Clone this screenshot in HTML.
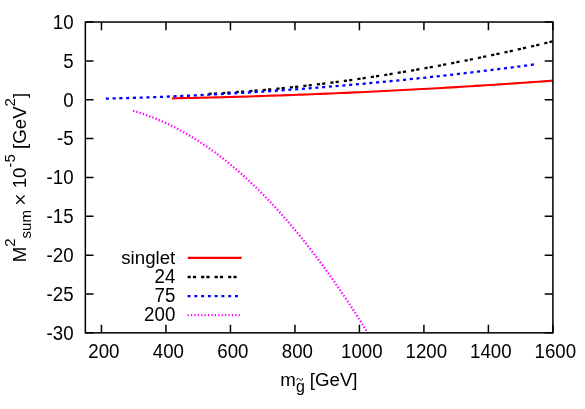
<!DOCTYPE html>
<html><head><meta charset="utf-8"><title>plot</title>
<style>
html,body{margin:0;padding:0;background:#fff;}
body{width:585px;height:409px;overflow:hidden;}
svg{display:block;will-change:transform;}
text{font-family:"Liberation Sans",sans-serif;font-size:18.7px;fill:#000;}
</style></head><body>
<svg width="585" height="409" viewBox="0 0 585 409">
<rect width="585" height="409" fill="#fff"/>
<g fill="none" stroke-width="2.3">
<path d="M172.00,98.35 L176.82,98.25 L181.64,98.15 L186.46,98.05 L191.29,97.95 L196.11,97.84 L200.93,97.73 L205.75,97.61 L210.57,97.50 L215.39,97.37 L220.22,97.25 L225.04,97.12 L229.86,96.99 L234.68,96.86 L239.50,96.72 L244.32,96.58 L249.14,96.43 L253.97,96.28 L258.79,96.13 L263.61,95.98 L268.43,95.82 L273.25,95.66 L278.07,95.50 L282.89,95.33 L287.72,95.16 L292.54,94.98 L297.36,94.81 L302.18,94.63 L307.00,94.44 L311.82,94.25 L316.65,94.06 L321.47,93.87 L326.29,93.67 L331.11,93.47 L335.93,93.27 L340.75,93.06 L345.57,92.85 L350.40,92.64 L355.22,92.42 L360.04,92.20 L364.86,91.97 L369.68,91.75 L374.50,91.52 L379.33,91.28 L384.15,91.05 L388.97,90.81 L393.79,90.56 L398.61,90.31 L403.43,90.06 L408.25,89.81 L413.08,89.55 L417.90,89.29 L422.72,89.03 L427.54,88.76 L432.36,88.49 L437.18,88.22 L442.01,87.94 L446.83,87.66 L451.65,87.38 L456.47,87.09 L461.29,86.80 L466.11,86.51 L470.93,86.21 L475.76,85.91 L480.58,85.61 L485.40,85.30 L490.22,84.99 L495.04,84.68 L499.86,84.37 L504.68,84.05 L509.51,83.72 L514.33,83.40 L519.15,83.07 L523.97,82.73 L528.79,82.40 L533.61,82.06 L538.44,81.72 L543.26,81.37 L548.08,81.02 L552.90,80.67" stroke="#ff0000" stroke-width="2.1"/>
<path d="M208.50,93.85 L212.86,93.61 L217.22,93.37 L221.58,93.11 L225.94,92.83 L230.30,92.55 L234.66,92.25 L239.02,91.94 L243.38,91.62 L247.74,91.29 L252.09,90.94 L256.45,90.59 L260.81,90.22 L265.17,89.84 L269.53,89.44 L273.89,89.04 L278.25,88.62 L282.61,88.20 L286.97,87.76 L291.33,87.31 L295.69,86.84 L300.05,86.37 L304.41,85.89 L308.77,85.39 L313.13,84.88 L317.49,84.36 L321.85,83.83 L326.21,83.29 L330.57,82.74 L334.93,82.18 L339.28,81.61 L343.64,81.02 L348.00,80.43 L352.36,79.82 L356.72,79.21 L361.08,78.58 L365.44,77.94 L369.80,77.29 L374.16,76.64 L378.52,75.97 L382.88,75.29 L387.24,74.60 L391.60,73.90 L395.96,73.19 L400.32,72.47 L404.68,71.74 L409.04,71.00 L413.40,70.26 L417.76,69.50 L422.12,68.73 L426.47,67.95 L430.83,67.16 L435.19,66.36 L439.55,65.56 L443.91,64.74 L448.27,63.91 L452.63,63.08 L456.99,62.23 L461.35,61.38 L465.71,60.51 L470.07,59.64 L474.43,58.76 L478.79,57.87 L483.15,56.97 L487.51,56.06 L491.87,55.14 L496.23,54.22 L500.59,53.28 L504.95,52.34 L509.31,51.39 L513.66,50.42 L518.02,49.45 L522.38,48.48 L526.74,47.49 L531.10,46.50 L535.46,45.49 L539.82,44.48 L544.18,43.46 L548.54,42.43 L552.90,41.40" stroke="#000" stroke-dasharray="3.2 2.1 3.2 5.1"/>
<path d="M105.80,98.63 L111.23,98.49 L116.65,98.34 L122.08,98.19 L127.50,98.03 L132.93,97.86 L138.35,97.68 L143.78,97.50 L149.20,97.31 L154.63,97.11 L160.05,96.90 L165.48,96.69 L170.90,96.47 L176.33,96.24 L181.75,96.00 L187.18,95.76 L192.61,95.50 L198.03,95.24 L203.46,94.98 L208.88,94.70 L214.31,94.42 L219.73,94.13 L225.16,93.83 L230.58,93.53 L236.01,93.22 L241.43,92.90 L246.86,92.57 L252.28,92.24 L257.71,91.89 L263.13,91.54 L268.56,91.19 L273.98,90.82 L279.41,90.45 L284.84,90.07 L290.26,89.68 L295.69,89.29 L301.11,88.88 L306.54,88.47 L311.96,88.05 L317.39,87.63 L322.81,87.20 L328.24,86.76 L333.66,86.31 L339.09,85.85 L344.51,85.39 L349.94,84.92 L355.36,84.44 L360.79,83.95 L366.22,83.46 L371.64,82.96 L377.07,82.45 L382.49,81.94 L387.92,81.41 L393.34,80.88 L398.77,80.34 L404.19,79.80 L409.62,79.24 L415.04,78.68 L420.47,78.11 L425.89,77.54 L431.32,76.95 L436.74,76.36 L442.17,75.76 L447.59,75.16 L453.02,74.54 L458.45,73.92 L463.87,73.29 L469.30,72.65 L474.72,72.01 L480.15,71.36 L485.57,70.70 L491.00,70.03 L496.42,69.36 L501.85,68.68 L507.27,67.99 L512.70,67.29 L518.12,66.58 L523.55,65.87 L528.97,65.15 L534.40,64.43" stroke="#0000ff" stroke-dasharray="3.1 3.67"/>
<path d="M133.00,110.74 L135.97,111.62 L138.95,112.55 L141.92,113.52 L144.89,114.54 L147.87,115.60 L150.84,116.71 L153.81,117.87 L156.79,119.08 L159.76,120.33 L162.73,121.63 L165.71,122.98 L168.68,124.38 L171.65,125.83 L174.63,127.32 L177.60,128.86 L180.57,130.45 L183.55,132.09 L186.52,133.78 L189.49,135.52 L192.47,137.31 L195.44,139.14 L198.42,141.03 L201.39,142.97 L204.36,144.95 L207.34,146.99 L210.31,149.08 L213.28,151.21 L216.26,153.40 L219.23,155.63 L222.20,157.92 L225.18,160.26 L228.15,162.65 L231.12,165.09 L234.10,167.58 L237.07,170.12 L240.04,172.71 L243.02,175.36 L245.99,178.05 L248.96,180.80 L251.94,183.60 L254.91,186.44 L257.88,189.35 L260.86,192.30 L263.83,195.30 L266.80,198.36 L269.78,201.46 L272.75,204.62 L275.72,207.83 L278.70,211.10 L281.67,214.41 L284.64,217.78 L287.62,221.20 L290.59,224.67 L293.56,228.19 L296.54,231.76 L299.51,235.39 L302.48,239.07 L305.46,242.80 L308.43,246.58 L311.41,250.42 L314.38,254.30 L317.35,258.24 L320.33,262.23 L323.30,266.28 L326.27,270.37 L329.25,274.52 L332.22,278.71 L335.19,282.97 L338.17,287.27 L341.14,291.62 L344.11,296.03 L347.09,300.48 L350.06,304.99 L353.03,309.55 L356.01,314.17 L358.98,318.83 L361.95,323.55 L364.93,328.31 L367.90,333.13" stroke="#ff00ff" stroke-dasharray="1.4 2.0"/>
<path d="M187.8,257.9 H241.6" stroke="#ff0000"/>
<path d="M187.6,277.0 H237" stroke="#000" stroke-dasharray="3.2 2.1 3.2 5.0"/>
<path d="M187.6,296.1 H238" stroke="#0000ff" stroke-dasharray="2.9 3.87"/>
<path d="M187.6,315.1 H240.3" stroke="#ff00ff" stroke-dasharray="1.2 2.2"/>
</g>
<g fill="none" stroke="#000" stroke-width="1.5">
<rect x="85.35" y="22.05" width="467.55" height="310.80"/>
<path d="M101.47,332.85 V324.65000000000003 M101.47,22.05 V30.25"/>
<path d="M165.96,332.85 V324.65000000000003 M165.96,22.05 V30.25"/>
<path d="M230.45,332.85 V324.65000000000003 M230.45,22.05 V30.25"/>
<path d="M294.94,332.85 V324.65000000000003 M294.94,22.05 V30.25"/>
<path d="M359.43,332.85 V324.65000000000003 M359.43,22.05 V30.25"/>
<path d="M423.92,332.85 V324.65000000000003 M423.92,22.05 V30.25"/>
<path d="M488.41,332.85 V324.65000000000003 M488.41,22.05 V30.25"/>
<path d="M552.90,332.85 V324.65000000000003 M552.90,22.05 V30.25"/>
<path d="M85.35,332.85 H93.55 M552.9,332.85 H544.6999999999999"/>
<path d="M85.35,294.00 H93.55 M552.9,294.00 H544.6999999999999"/>
<path d="M85.35,255.15 H93.55 M552.9,255.15 H544.6999999999999"/>
<path d="M85.35,216.30 H93.55 M552.9,216.30 H544.6999999999999"/>
<path d="M85.35,177.45 H93.55 M552.9,177.45 H544.6999999999999"/>
<path d="M85.35,138.60 H93.55 M552.9,138.60 H544.6999999999999"/>
<path d="M85.35,99.75 H93.55 M552.9,99.75 H544.6999999999999"/>
<path d="M85.35,60.90 H93.55 M552.9,60.90 H544.6999999999999"/>
<path d="M85.35,22.05 H93.55 M552.9,22.05 H544.6999999999999"/>
</g>
<g>
<text transform="translate(103.87,358.4) scale(1,1.06)" text-anchor="middle">200</text>
<text transform="translate(168.36,358.4) scale(1,1.06)" text-anchor="middle">400</text>
<text transform="translate(232.85,358.4) scale(1,1.06)" text-anchor="middle">600</text>
<text transform="translate(297.34,358.4) scale(1,1.06)" text-anchor="middle">800</text>
<text transform="translate(361.83,358.4) scale(1,1.06)" text-anchor="middle">1000</text>
<text transform="translate(426.32,358.4) scale(1,1.06)" text-anchor="middle">1200</text>
<text transform="translate(490.81,358.4) scale(1,1.06)" text-anchor="middle">1400</text>
<text transform="translate(555.30,358.4) scale(1,1.06)" text-anchor="middle">1600</text>
<text transform="translate(73.6,339.65) scale(1,1.06)" text-anchor="end">-30</text>
<text transform="translate(73.6,300.80) scale(1,1.06)" text-anchor="end">-25</text>
<text transform="translate(73.6,261.95) scale(1,1.06)" text-anchor="end">-20</text>
<text transform="translate(73.6,223.10) scale(1,1.06)" text-anchor="end">-15</text>
<text transform="translate(73.6,184.25) scale(1,1.06)" text-anchor="end">-10</text>
<text transform="translate(73.6,145.40) scale(1,1.06)" text-anchor="end">-5</text>
<text transform="translate(73.6,106.55) scale(1,1.06)" text-anchor="end">0</text>
<text transform="translate(73.6,67.70) scale(1,1.06)" text-anchor="end">5</text>
<text transform="translate(73.6,28.85) scale(1,1.06)" text-anchor="end">10</text>
<text transform="translate(175.3,263.90) scale(1,1.0)" text-anchor="end">singlet</text>
<text transform="translate(175.3,283.00) scale(1,1.06)" text-anchor="end">24</text>
<text transform="translate(175.3,302.10) scale(1,1.06)" text-anchor="end">75</text>
<text transform="translate(175.3,321.10) scale(1,1.06)" text-anchor="end">200</text>
<text x="280.3" y="386">m<tspan font-size="16" dy="5.9">g</tspan><tspan dy="-5.9" dx="-0.2"> [GeV]</tspan></text>
<path d="M296.7,380.4 C297.2,377.8 298.7,377.8 299.65,379.3 C300.6,380.8 302.1,380.8 302.6,378.2" fill="none" stroke="#000" stroke-width="1.0"/>
<text transform="translate(25.7,262.3) rotate(-90)">M<tspan font-size="15" dy="-10.4">2</tspan><tspan font-size="15" dy="16.0">sum</tspan></text>
<path d="M16.2,195.5 L24.6,203.7 M24.6,195.5 L16.2,203.7" fill="none" stroke="#000" stroke-width="1.2"/>
<text transform="translate(25.7,188.3) rotate(-90)">10<tspan font-size="15" dy="-10.4">-5</tspan><tspan dy="10.4"> [GeV</tspan><tspan font-size="15" dy="-10.4">2</tspan><tspan dy="10.4">]</tspan></text>
</g>
</svg>
</body></html>
